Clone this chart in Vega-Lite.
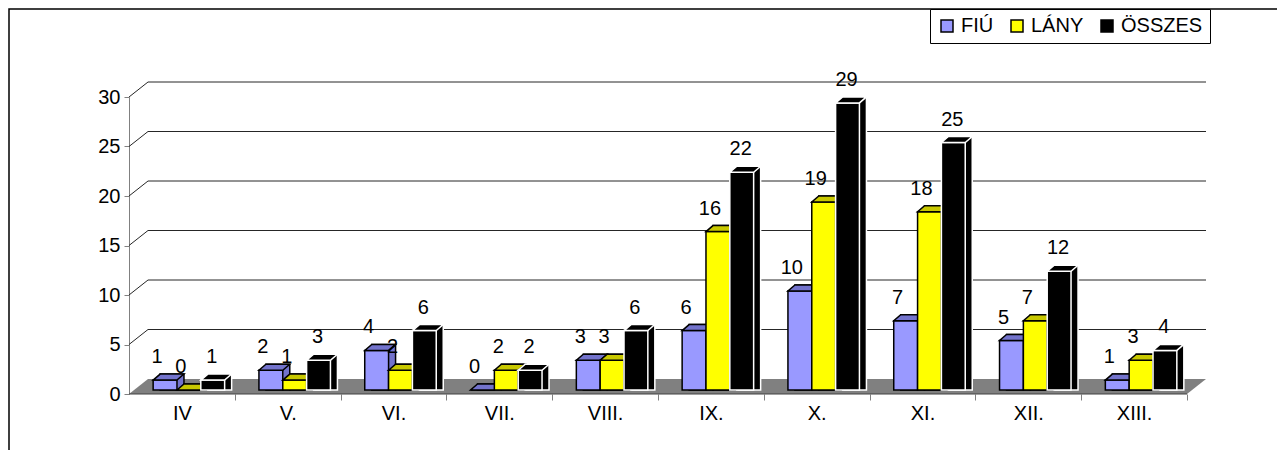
{
  "$schema": "https://vega.github.io/schema/vega-lite/v6.json",
  "width": 1058,
  "height": 297,
  "autosize": {"type": "none"},
  "padding": {"left": 129, "top": 97, "right": 90, "bottom": 56},
  "background": "white",
  "config": {"view": {"stroke": null}, "font": "Liberation Sans"},
  "datasets": {
    "d": [
      {"c": "IV", "s": "FIÚ", "v": 1}, {"c": "IV", "s": "LÁNY", "v": 0}, {"c": "IV", "s": "ÖSSZES", "v": 1},
      {"c": "V.", "s": "FIÚ", "v": 2}, {"c": "V.", "s": "LÁNY", "v": 1}, {"c": "V.", "s": "ÖSSZES", "v": 3},
      {"c": "VI.", "s": "FIÚ", "v": 4}, {"c": "VI.", "s": "LÁNY", "v": 2}, {"c": "VI.", "s": "ÖSSZES", "v": 6},
      {"c": "VII.", "s": "FIÚ", "v": 0}, {"c": "VII.", "s": "LÁNY", "v": 2}, {"c": "VII.", "s": "ÖSSZES", "v": 2},
      {"c": "VIII.", "s": "FIÚ", "v": 3}, {"c": "VIII.", "s": "LÁNY", "v": 3}, {"c": "VIII.", "s": "ÖSSZES", "v": 6},
      {"c": "IX.", "s": "FIÚ", "v": 6}, {"c": "IX.", "s": "LÁNY", "v": 16}, {"c": "IX.", "s": "ÖSSZES", "v": 22},
      {"c": "X.", "s": "FIÚ", "v": 10}, {"c": "X.", "s": "LÁNY", "v": 19}, {"c": "X.", "s": "ÖSSZES", "v": 29},
      {"c": "XI.", "s": "FIÚ", "v": 7}, {"c": "XI.", "s": "LÁNY", "v": 18}, {"c": "XI.", "s": "ÖSSZES", "v": 25},
      {"c": "XII.", "s": "FIÚ", "v": 5}, {"c": "XII.", "s": "LÁNY", "v": 7}, {"c": "XII.", "s": "ÖSSZES", "v": 12},
      {"c": "XIII.", "s": "FIÚ", "v": 1}, {"c": "XIII.", "s": "LÁNY", "v": 3}, {"c": "XIII.", "s": "ÖSSZES", "v": 4}
    ],
    "g": [{"v": 5}, {"v": 10}, {"v": 15}, {"v": 20}, {"v": 25}, {"v": 30}],
    "one": [{"k": 1}]
  },
  "layer": [
    {
      "layer": [
        {
          "data": {"name": "one"},
          "mark": {"type": "rect", "filled": false, "stroke": "black", "strokeWidth": 1.5, "xOffset": -120, "x2Offset": 110, "yOffset": -88, "y2Offset": 80},
          "encoding": {
            "x": {"datum": 0, "type": "quantitative", "scale": {"domain": [0, 10], "nice": false}, "axis": null},
            "x2": {"datum": 10},
            "y": {"datum": 30, "type": "quantitative", "scale": {"domain": [0, 30], "nice": false},
                  "axis": {"title": null, "values": [0, 5, 10, 15, 20, 25, 30], "tickSize": 5, "tickColor": "#808080", "domainColor": "#808080", "labelFontSize": 20, "labelColor": "black", "labelPadding": 4, "grid": false}},
            "y2": {"datum": 0}
          }
        },
        {
          "data": {"name": "one"},
          "mark": {"type": "point", "shape": "M-529,0L529,0L548,-15L-510,-15Z", "size": 4, "filled": true, "fill": "#808080", "opacity": 1},
          "encoding": {
            "x": {"datum": 5, "type": "quantitative"},
            "y": {"datum": 0, "type": "quantitative"}
          }
        },
        {
          "data": {"name": "g"},
          "mark": {"type": "rule", "stroke": "#262626", "strokeWidth": 1, "xOffset": 19, "x2Offset": 19, "yOffset": -15},
          "encoding": {
            "x": {"datum": 0, "type": "quantitative"},
            "x2": {"datum": 10},
            "y": {"field": "v", "type": "quantitative", "title": null}
          }
        },
        {
          "data": {"name": "g"},
          "mark": {"type": "rule", "stroke": "#262626", "strokeWidth": 1, "x2Offset": 19, "y2Offset": -15},
          "encoding": {
            "x": {"datum": 0, "type": "quantitative"},
            "x2": {"datum": 0},
            "y": {"field": "v", "type": "quantitative", "title": null},
            "y2": {"field": "v"}
          }
        },
        {
          "data": {"name": "one"},
          "mark": {"type": "rule", "stroke": "#404040", "strokeWidth": 1},
          "encoding": {
            "x": {"datum": 0, "type": "quantitative"},
            "x2": {"datum": 10},
            "y": {"datum": 0, "type": "quantitative"}
          }
        }
      ]
    },
    {
      "data": {"name": "d"},
      "layer": [
        {
          "transform": [{"filter": "datum.s === 'FIÚ'"}],
          "resolve": {"scale": {"xOffset": "independent"}},
          "layer": [
            {
              "mark": {"type": "bar", "fill": "#7373CC", "stroke": "black", "strokeWidth": 1.5, "yOffset": -10, "y2Offset": -4},
              "encoding": {
                "x": {"field": "c", "type": "nominal", "title": null,
                      "scale": {"type": "band", "domain": ["IV", "V.", "VI.", "VII.", "VIII.", "IX.", "X.", "XI.", "XII.", "XIII."], "paddingInner": 0.324, "paddingOuter": 0.162},
                      "axis": {"orient": "bottom", "title": null, "domain": false, "bandPosition": 1, "tickOffset": 17.2, "labelOffset": -17.2, "tickSize": 6, "tickColor": "#808080", "labelFontSize": 20, "labelColor": "black", "labelPadding": 3, "labelAngle": 0, "grid": false}},
                "xOffset": {"field": "s", "scale": {"type": "band", "domain": ["FIÚ", "LÁNY", "ÖSSZES"], "range": [14, 85.5], "paddingInner": 0, "paddingOuter": 0}},
                "y": {"field": "v", "type": "quantitative", "title": null},
                "y2": {"datum": 0}
              }
            },
            {
              "mark": {"type": "bar", "stroke": "black", "strokeWidth": 1.5, "yOffset": -4, "y2Offset": -4},
              "encoding": {
                "x": {"field": "c", "type": "nominal", "title": null},
                "xOffset": {"field": "s", "scale": {"type": "band", "domain": ["FIÚ", "LÁNY", "ÖSSZES"], "range": [7, 78.5], "paddingInner": 0, "paddingOuter": 0}},
                "y": {"field": "v", "type": "quantitative", "title": null},
                "y2": {"datum": 0},
                "color": {"field": "s", "type": "nominal", "title": null,
                          "scale": {"domain": ["FIÚ", "LÁNY", "ÖSSZES"], "range": ["#9999FF", "#FFFF00", "#000000"]},
                          "legend": {"orient": "none", "legendX": 801, "legendY": -88, "direction": "horizontal", "strokeColor": "black", "fillColor": "white", "padding": 7, "symbolType": "square", "symbolSize": 144, "symbolStrokeColor": "black", "symbolStrokeWidth": 1.5, "labelFontSize": 20, "labelColor": "black", "labelOffset": 4, "columnPadding": 13, "title": null}}
              }
            },
            {
              "mark": {"type": "point", "shape": "M-11.9,0L11.9,0L18.9,-6L-4.9,-6Z", "size": 4, "filled": true, "fill": "#7373CC", "stroke": "black", "strokeWidth": 1.5, "opacity": 1, "yOffset": -4},
              "encoding": {
                "x": {"field": "c", "type": "nominal", "title": null},
                "xOffset": {"field": "s", "scale": {"type": "band", "domain": ["FIÚ", "LÁNY", "ÖSSZES"], "range": [7, 78.5], "paddingInner": 0, "paddingOuter": 0}},
                "y": {"field": "v", "type": "quantitative", "title": null}
              }
            },
            {
              "mark": {"type": "text", "fontSize": 20, "baseline": "middle", "yOffset": -4, "dy": -23, "dx": -8, "color": "black"},
              "encoding": {
                "x": {"field": "c", "type": "nominal", "title": null},
                "xOffset": {"field": "s", "scale": {"type": "band", "domain": ["FIÚ", "LÁNY", "ÖSSZES"], "range": [7, 78.5], "paddingInner": 0, "paddingOuter": 0}},
                "y": {"field": "v", "type": "quantitative", "title": null},
                "text": {"field": "v", "type": "quantitative"}
              }
            }
          ]
        },
        {
          "transform": [{"filter": "datum.s === 'LÁNY'"}],
          "resolve": {"scale": {"xOffset": "independent"}},
          "layer": [
            {
              "mark": {"type": "bar", "fill": "#C8C800", "stroke": "black", "strokeWidth": 1.5, "yOffset": -10, "y2Offset": -4},
              "encoding": {
                "x": {"field": "c", "type": "nominal", "title": null},
                "xOffset": {"field": "s", "scale": {"type": "band", "domain": ["FIÚ", "LÁNY", "ÖSSZES"], "range": [14, 85.5], "paddingInner": 0, "paddingOuter": 0}},
                "y": {"field": "v", "type": "quantitative", "title": null},
                "y2": {"datum": 0}
              }
            },
            {
              "mark": {"type": "bar", "stroke": "black", "strokeWidth": 1.5, "yOffset": -4, "y2Offset": -4},
              "encoding": {
                "x": {"field": "c", "type": "nominal", "title": null},
                "xOffset": {"field": "s", "scale": {"type": "band", "domain": ["FIÚ", "LÁNY", "ÖSSZES"], "range": [7, 78.5], "paddingInner": 0, "paddingOuter": 0}},
                "y": {"field": "v", "type": "quantitative", "title": null},
                "y2": {"datum": 0},
                "color": {"field": "s", "type": "nominal", "title": null}
              }
            },
            {
              "mark": {"type": "point", "shape": "M-11.9,0L11.9,0L18.9,-6L-4.9,-6Z", "size": 4, "filled": true, "fill": "#C8C800", "stroke": "black", "strokeWidth": 1.5, "opacity": 1, "yOffset": -4},
              "encoding": {
                "x": {"field": "c", "type": "nominal", "title": null},
                "xOffset": {"field": "s", "scale": {"type": "band", "domain": ["FIÚ", "LÁNY", "ÖSSZES"], "range": [7, 78.5], "paddingInner": 0, "paddingOuter": 0}},
                "y": {"field": "v", "type": "quantitative", "title": null}
              }
            },
            {
              "mark": {"type": "text", "fontSize": 20, "baseline": "middle", "yOffset": -4, "dy": -23, "dx": -8, "color": "black"},
              "encoding": {
                "x": {"field": "c", "type": "nominal", "title": null},
                "xOffset": {"field": "s", "scale": {"type": "band", "domain": ["FIÚ", "LÁNY", "ÖSSZES"], "range": [7, 78.5], "paddingInner": 0, "paddingOuter": 0}},
                "y": {"field": "v", "type": "quantitative", "title": null},
                "text": {"field": "v", "type": "quantitative"}
              }
            }
          ]
        },
        {
          "transform": [{"filter": "datum.s === 'ÖSSZES'"}],
          "resolve": {"scale": {"xOffset": "independent"}},
          "layer": [
            {
              "mark": {"type": "bar", "fill": "#000000", "stroke": "white", "strokeWidth": 1.5, "yOffset": -10, "y2Offset": -4},
              "encoding": {
                "x": {"field": "c", "type": "nominal", "title": null},
                "xOffset": {"field": "s", "scale": {"type": "band", "domain": ["FIÚ", "LÁNY", "ÖSSZES"], "range": [14, 85.5], "paddingInner": 0, "paddingOuter": 0}},
                "y": {"field": "v", "type": "quantitative", "title": null},
                "y2": {"datum": 0}
              }
            },
            {
              "mark": {"type": "bar", "stroke": "white", "strokeWidth": 1.5, "yOffset": -4, "y2Offset": -4},
              "encoding": {
                "x": {"field": "c", "type": "nominal", "title": null},
                "xOffset": {"field": "s", "scale": {"type": "band", "domain": ["FIÚ", "LÁNY", "ÖSSZES"], "range": [7, 78.5], "paddingInner": 0, "paddingOuter": 0}},
                "y": {"field": "v", "type": "quantitative", "title": null},
                "y2": {"datum": 0},
                "color": {"field": "s", "type": "nominal", "title": null}
              }
            },
            {
              "mark": {"type": "point", "shape": "M-11.9,0L11.9,0L18.9,-6L-4.9,-6Z", "size": 4, "filled": true, "fill": "#000000", "stroke": "white", "strokeWidth": 1.5, "opacity": 1, "yOffset": -4},
              "encoding": {
                "x": {"field": "c", "type": "nominal", "title": null},
                "xOffset": {"field": "s", "scale": {"type": "band", "domain": ["FIÚ", "LÁNY", "ÖSSZES"], "range": [7, 78.5], "paddingInner": 0, "paddingOuter": 0}},
                "y": {"field": "v", "type": "quantitative", "title": null}
              }
            },
            {
              "mark": {"type": "text", "fontSize": 20, "baseline": "middle", "yOffset": -4, "dy": -23, "dx": -1, "color": "black"},
              "encoding": {
                "x": {"field": "c", "type": "nominal", "title": null},
                "xOffset": {"field": "s", "scale": {"type": "band", "domain": ["FIÚ", "LÁNY", "ÖSSZES"], "range": [7, 78.5], "paddingInner": 0, "paddingOuter": 0}},
                "y": {"field": "v", "type": "quantitative", "title": null},
                "text": {"field": "v", "type": "quantitative"}
              }
            }
          ]
        }
      ]
    }
  ],
  "resolve": {"scale": {"x": "independent"}}
}
